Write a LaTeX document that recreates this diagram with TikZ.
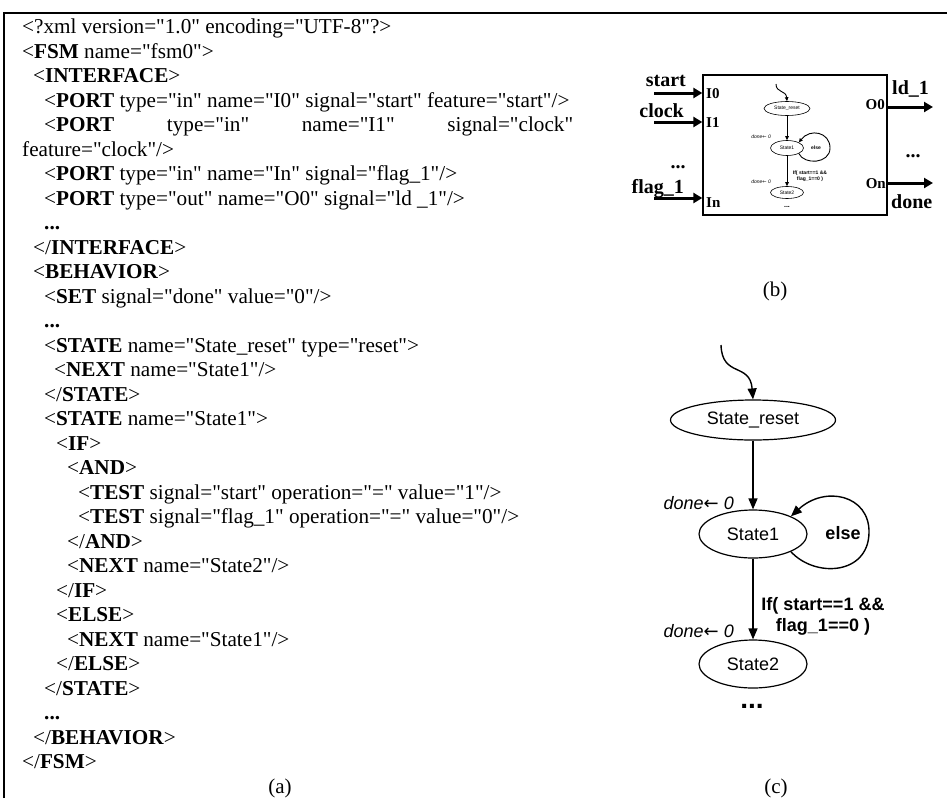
\documentclass[tikz,border=0pt]{standalone}
\usepackage{fontspec}
\setmainfont{Liberation Serif}[Ligatures=TeXOff]
\newfontfamily\arial{Liberation Sans}[Ligatures=TeXOff]
\newfontfamily\symfont{DejaVu Sans}
\usetikzlibrary{arrows.meta,shapes.geometric}
\newcommand\tg[1]{\textbf{#1}}
\newcommand\setfs[1]{\fontsize{#1}{#1}\selectfont}
\newcommand\larr{{\symfont\upshape ←}}

\begin{document}
\begin{tikzpicture}[x=1pt, y=-1pt,
  code/.style={anchor=base west, inner sep=0pt, font=\setfs{21.2}},
  subcaption/.style={anchor=base, inner sep=0pt, font=\setfs{21}},
  frameline/.style={line width=2.6pt},
  % full-size state chart
  cstate/.style={draw, ellipse, line width=1.2pt, inner sep=0pt, font=\arial\setfs{18}},
  carr/.style={line width=1.4pt, -{Triangle[length=11pt,width=9pt]}},
  clab/.style={inner sep=0pt, font=\arial\bfseries\fontsize{18}{21}\selectfont},
  cset/.style={anchor=base east, inner sep=0pt, font=\arial\itshape\setfs{18}},
  % block symbol
  blk/.style={draw, line width=1.3pt, inner sep=0pt},
  barr/.style={line width=3pt, -{Triangle[length=9pt,width=10pt]}},
  sig/.style={inner sep=0pt, font=\bfseries\setfs{20}},
  port/.style={inner sep=0pt, font=\bfseries\setfs{15}},
  % miniature state chart inside the block
  sstate/.style={draw, ellipse, line width=0.6pt, inner sep=0pt, font=\arial\setfs{5}},
  sarr/.style={line width=0.9pt, -{Triangle[length=4pt,width=3.5pt]}},
  slab/.style={inner sep=0pt, font=\arial\bfseries\fontsize{5}{6}\selectfont},
  sset/.style={anchor=east, inner sep=0pt, font=\arial\itshape\setfs{5}}]

\useasboundingbox (0,0) rectangle (947,798);

% frame
\draw[frameline] (4,798) -- (4,13) -- (947,13);

% ---------------- (a) XML listing ----------------
\node[code] (x1)  at (22,33.5)  {<?xml version="1.0" encoding="UTF-8"?>};
\node[code] (x2)  at (22,58)    {<\tg{FSM} name="fsm0">};
\node[code] (x3)  at (33,82.5)  {<\tg{INTERFACE}>};
\node[code] (x4)  at (44,107)   {<\tg{PORT} type="in" name="I0" signal="start" feature="start"/>};
\node[code] (x5)  at (44,131.5) {\makebox[529pt][s]{<\tg{PORT} type="in" name="I1" signal="clock"}};
\node[code] (x6)  at (22,156)   {feature="clock"/>};
\node[code] (x7)  at (44,180.5) {<\tg{PORT} type="in" name="In" signal="flag\_1"/>};
\node[code] (x8)  at (44,205)   {<\tg{PORT} type="out" name="O0" signal="ld \_1"/>};
\node[code] (x9)  at (44,229.5) {\tg{...}};
\node[code] (x10) at (33,254)   {</\tg{INTERFACE}>};
\node[code] (x11) at (33,278.5) {<\tg{BEHAVIOR}>};
\node[code] (x12) at (44,303)   {<\tg{SET} signal="done" value="0"/>};
\node[code] (x13) at (44,327.5) {\tg{...}};
\node[code] (x14) at (44,352)   {<\tg{STATE} name="State\_reset" type="reset">};
\node[code] (x15) at (54,376.5) {<\tg{NEXT} name="State1"/>};
\node[code] (x16) at (44,401)   {</\tg{STATE}>};
\node[code] (x17) at (44,425.5) {<\tg{STATE} name="State1">};
\node[code] (x18) at (56,450)   {<\tg{IF}>};
\node[code] (x19) at (67,474.5) {<\tg{AND}>};
\node[code] (x20) at (78,499)   {<\tg{TEST} signal="start" operation="=" value="1"/>};
\node[code] (x21) at (78,523.5) {<\tg{TEST} signal="flag\_1" operation="=" value="0"/>};
\node[code] (x22) at (67,548)   {</\tg{AND}>};
\node[code] (x23) at (67,572.5) {<\tg{NEXT} name="State2"/>};
\node[code] (x24) at (56,597)   {</\tg{IF}>};
\node[code] (x25) at (56,621.5) {<\tg{ELSE}>};
\node[code] (x26) at (67,646)   {<\tg{NEXT} name="State1"/>};
\node[code] (x27) at (56,670.5) {</\tg{ELSE}>};
\node[code] (x28) at (44,695)   {</\tg{STATE}>};
\node[code] (x29) at (44,719.5) {\tg{...}};
\node[code] (x30) at (33,744)   {</\tg{BEHAVIOR}>};
\node[code] (x31) at (22,768.5) {</\tg{FSM}>};
\node[subcaption] (capa) at (280,793) {(a)};

% ---------------- (b) block symbol ----------------
\node[blk, minimum width=184pt, minimum height=140pt] (bbox) at (795,145) {};

\coordinate (a0) at (654,93);
\coordinate (a1) at (654,122);
\coordinate (an) at (654,198);
\coordinate (q0) at (933,107);
\coordinate (qn) at (933,183);
\draw[barr] (a0) -- (a0 -| bbox.west);
\draw[barr] (a1) -- (a1 -| bbox.west);
\draw[barr] (an) -- (an -| bbox.west);
\draw[barr] (q0 -| bbox.east) -- (q0);
\draw[barr] (qn -| bbox.east) -- (qn);

\node[sig, anchor=base east] (sstart) at (686,86)  {start};
\node[sig, anchor=base east] (sclock) at (684,117) {clock};
\node[sig, anchor=base]      (sdotl)  at (678,168) {...};
\node[sig, anchor=base east] (sflag)  at (684,193) {flag\_1};
\node[sig, anchor=base west] (sld)    at (892,94)  {ld\_1};
\node[sig, anchor=base]      (sdotr)  at (913,157) {...};
\node[sig, anchor=base west] (sdone)  at (891,208) {done};

\node[port, anchor=base west] (pI0) at (706,98)  {I0};
\node[port, anchor=base west] (pI1) at (706,127) {I1};
\node[port, anchor=base west] (pIn) at (706,207) {In};
\node[port, anchor=base east] (pO0) at (885,109) {O0};
\node[port, anchor=base east] (pOn) at (886,188) {On};

% miniature chart
\node[sstate, minimum width=46pt, minimum height=14pt] (br) at (787,108.5) {State\_reset};
\node[sstate, minimum width=33pt, minimum height=15pt] (b1) at (787,148) {State1};
\node[sstate, minimum width=33pt, minimum height=12pt] (b2) at (787,192.5) {State2};
\coordinate (bin) at (776,84);
\draw[sarr] (bin) .. controls (776,93) and (786,90) .. (br.north);
\draw[sarr] (br) -- (b1);
\draw[sarr] (b1) -- (b2);
\draw[sarr] (b1.-25) .. controls (804,165) and (830,164) .. (830,148)
                     .. controls (830,132) and (810,128) .. (b1.25);
\node[slab] (belse) at (816,147.5) {else};
\node[slab, align=center] (bcond) at (810,176) {If( start==1 \&\&\\flag\_1==0 )};
\node[sset] (bset1) at (771,137) {done\larr\ 0};
\node[sset] (bset2) at (771,182) {done\larr\ 0};
\node[slab, font=\arial\bfseries\setfs{7}] (bdots) at (787,207) {...};

\node[subcaption] (capb) at (775,296) {(b)};

% ---------------- (c) state chart ----------------
\node[cstate, minimum width=165pt, minimum height=40pt] (cr) at (753,420) {State\_reset};
\node[cstate, minimum width=108pt, minimum height=48pt] (c1) at (753,534) {State1};
\node[cstate, minimum width=108pt, minimum height=48pt] (c2) at (753,664) {State2};
\coordinate (cin) at (721,345);
\draw[carr] (cin) .. controls (722,378) and (750,362) .. (cr.north);
\draw[carr] (cr) -- (c1);
\draw[carr] (c1) -- (c2);
\draw[carr] (c1.-25) .. controls (815,578) and (868,575) .. (869,533)
                     .. controls (870,495) and (825,485) .. (c1.25);
\node[clab] (celse) at (843,533) {else};
\node[clab, align=center] (ccond) at (823,616) {If( start==1 \&\&\\flag\_1==0 )};
\node[cset] (cset1) at (734,509) {done\larr\ 0};
\node[cset] (cset2) at (734,637) {done\larr\ 0};
\node[clab, font=\arial\bfseries\setfs{28}] (cdots) at (752,706) {...};

\node[subcaption] (capc) at (776,793) {(c)};

\end{tikzpicture}
\end{document}
